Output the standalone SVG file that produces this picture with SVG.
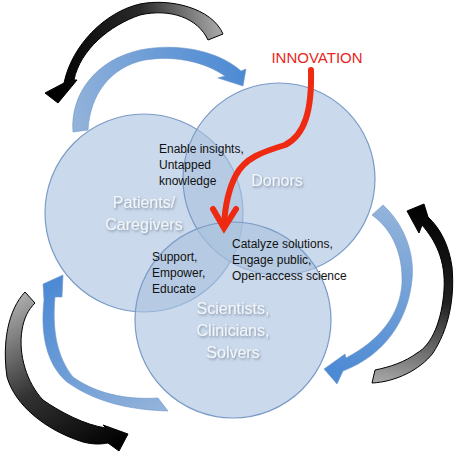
<svg xmlns="http://www.w3.org/2000/svg" width="458" height="458" viewBox="0 0 458 458">
<defs>
<style>
.circle{fill:#a9c1df;fill-opacity:0.62;stroke:#7b9bc6;stroke-width:1.2}
.big{font-family:"Liberation Sans",Arial,sans-serif;font-size:16px;fill:#f2f6fb;text-anchor:middle;filter:url(#sh)}
.small{font-family:"Liberation Sans",Arial,sans-serif;font-size:12px;fill:#111}
.blue{stroke:#6f97c9;stroke-width:0.6}
.black{stroke:#000;stroke-width:1}
.red{fill:none;stroke:#ee2a12;stroke-width:6;stroke-linecap:round}
</style>
<filter id="sh" x="-20%" y="-40%" width="140%" height="180%">
<feDropShadow dx="1" dy="1.5" stdDeviation="1" flood-color="#4a5566" flood-opacity="0.55"/>
</filter>
<linearGradient id="gTopBlack" gradientUnits="userSpaceOnUse" x1="50" y1="60" x2="225" y2="30">
<stop offset="0" stop-color="#000"/><stop offset="0.55" stop-color="#2a2a2a"/><stop offset="1" stop-color="#b0b0b0"/>
</linearGradient>
<linearGradient id="gRightBlack" gradientUnits="userSpaceOnUse" x1="430" y1="205" x2="390" y2="385">
<stop offset="0" stop-color="#000"/><stop offset="0.5" stop-color="#222"/><stop offset="1" stop-color="#a8a8a8"/>
</linearGradient>
<linearGradient id="gLeftBlack" gradientUnits="userSpaceOnUse" x1="25" y1="290" x2="120" y2="445">
<stop offset="0" stop-color="#b0b0b0"/><stop offset="0.5" stop-color="#333"/><stop offset="1" stop-color="#000"/>
</linearGradient>
<linearGradient id="gTopBlue" gradientUnits="userSpaceOnUse" x1="75" y1="130" x2="245" y2="75">
<stop offset="0" stop-color="#93b3da"/><stop offset="1" stop-color="#4d8ad4"/>
</linearGradient>
<linearGradient id="gRightBlue" gradientUnits="userSpaceOnUse" x1="378" y1="205" x2="330" y2="370">
<stop offset="0" stop-color="#93b3da"/><stop offset="1" stop-color="#4d8ad4"/>
</linearGradient>
<linearGradient id="gLeftBlue" gradientUnits="userSpaceOnUse" x1="165" y1="405" x2="55" y2="280">
<stop offset="0" stop-color="#93b3da"/><stop offset="1" stop-color="#4d8ad4"/>
</linearGradient>
</defs>
<rect width="458" height="458" fill="#fff"/>

<g id="connectors">
<path id="arrow-top-black" class="black" fill="url(#gTopBlack)" d="M 223 34 C 212 8 170 -2 140 4 C 105 12 72 45 64 83 L 45 93 L 58 103 L 77 80 L 74 80 C 80 50 110 25 140 15 C 170 8 198 18 208 40 Z"/>
<path id="arrow-top-blue" class="blue" fill="url(#gTopBlue)" d="M 73 132 C 70 95 95 60 140 50 C 180 42 220 52 241 71 L 246 69 L 243 86 L 218 78 L 225 76 C 205 62 175 55 145 60 C 110 67 90 95 88 130 Z"/>
<path id="arrow-right-blue" class="blue" fill="url(#gRightBlue)" d="M 383 205 C 405 225 415 255 412 280 C 408 320 385 355 343 371 L 337 384 L 324 369 L 345 354 L 346 358 C 380 340 400 315 402 283 C 403 255 393 230 372 215 Z"/>
<path id="arrow-right-black" class="black" fill="url(#gRightBlack)" d="M 372 383 C 395 382 420 370 433 353 C 448 330 455 300 452 267 C 449 245 440 228 428 217 L 424 204 L 407 211 L 419 233 L 422 225 C 435 240 446 260 444 290 C 442 320 432 345 417 353 C 405 362 390 367 375 370 Z"/>
<path id="arrow-left-blue" class="blue" fill="url(#gLeftBlue)" d="M 168 411 C 130 410 95 402 67 382 C 47 365 40 335 44 300 L 43 284 L 63 275 L 62 297 L 55 297 C 52 330 57 357 73 377 C 95 393 125 400 158 398 Z"/>
<path id="arrow-left-black" class="black" fill="url(#gLeftBlack)" d="M 25 292 C 8 310 2 343 7 377 C 15 405 45 430 83 442 C 95 445 102 444 108 443 L 119 451 L 128 434 L 103 425 L 106 428 C 85 425 60 412 43 400 C 27 383 18 355 22 330 C 24 318 28 310 35 303 Z"/>
</g>

<g id="node-patients">
<circle class="circle" cx="144" cy="213" r="99"/>
<text class="big" x="144" y="208">Patients/</text>
<text class="big" x="144" y="230">Caregivers</text>
</g>
<g id="node-donors">
<circle class="circle" cx="279" cy="179" r="96"/>
<text class="big" x="277" y="186">Donors</text>
</g>
<g id="node-scientists">
<circle class="circle" cx="233" cy="320" r="98"/>
<text class="big" x="233" y="314">Scientists,</text>
<text class="big" x="233" y="336">Clinicians,</text>
<text class="big" x="233" y="358">Solvers</text>
</g>
<g id="node-innovation">
<text x="317" y="63" font-family="'Liberation Sans',Arial,sans-serif" font-size="15" fill="#e8261c" text-anchor="middle">INNOVATION</text>
</g>
<g id="innovation-connector">
<path class="red" stroke-linejoin="round" d="M 311 70 C 312 110 305 135 285 145 C 262 152 245 158 236 175 C 228 190 225 205 224 226"/>
<path class="red" stroke-linejoin="miter" d="M 213 209 L 224 228 L 236 209"/>
</g>
<g id="label-patients-donors">
<text class="small" x="159" y="153">Enable insights,</text>
<text class="small" x="159" y="169">Untapped</text>
<text class="small" x="159" y="185">knowledge</text>
</g>
<g id="label-donors-scientists">
<text class="small" x="232" y="248">Catalyze solutions,</text>
<text class="small" x="232" y="264">Engage public,</text>
<text class="small" x="232" y="280">Open-access science</text>
</g>
<g id="label-patients-scientists">
<text class="small" x="152" y="261">Support,</text>
<text class="small" x="152" y="277">Empower,</text>
<text class="small" x="152" y="293">Educate</text>
</g>
</svg>
